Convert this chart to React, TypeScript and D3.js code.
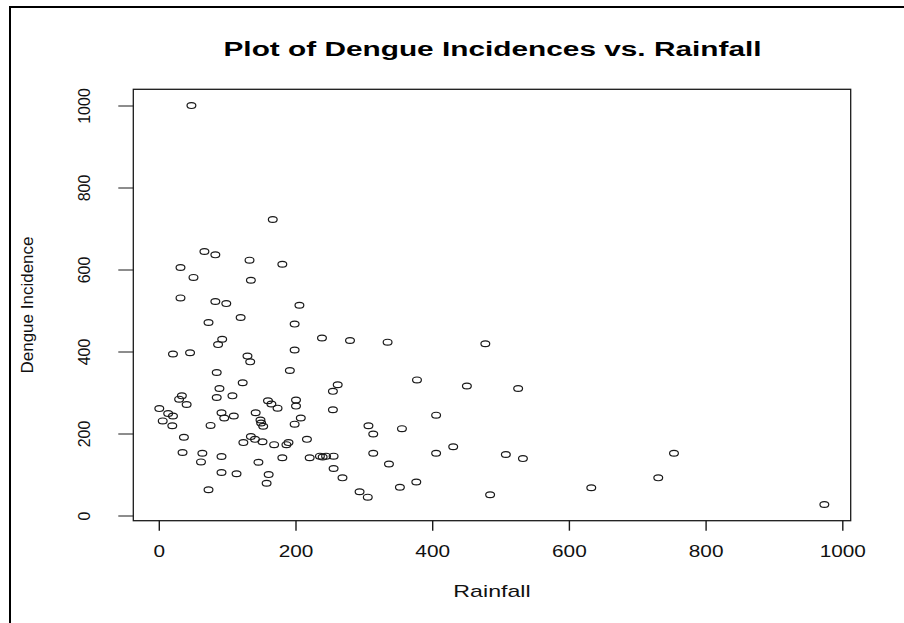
import React from "react";
import * as d3 from "d3";

const rainfall = [
  47, 166, 66, 82, 132, 180, 31, 50, 134, 31, 82, 98, 205, 72, 119, 198, 92, 86, 238, 279,
  20, 45, 198, 129, 133, 191, 84, 122, 88, 261, 254, 33, 29, 40, 84, 107, 0, 13, 20, 5,
  19, 91, 95, 109, 75, 159, 164, 173, 141, 148, 149, 152, 200, 200, 207, 198, 254, 306, 36, 34,
  63, 61, 91, 91, 113, 72, 123, 134, 140, 151, 168, 186, 189, 216, 145, 180, 160, 157, 220, 235,
  239, 244, 255, 255, 268, 293, 305, 334, 477, 377, 450, 525, 405, 313, 355, 313, 336, 405, 430, 507,
  532, 352, 376, 484, 632, 753, 730, 973,
];
const dengue = [
  1001, 723, 645, 637, 624, 614, 606, 582, 575, 532, 523, 518, 514, 472, 484, 468, 431, 418, 434, 428,
  395, 398, 405, 390, 376, 355, 350, 325, 311, 320, 304, 293, 285, 272, 289, 293, 262, 250, 244, 232,
  220, 252, 239, 244, 221, 281, 273, 263, 252, 234, 227, 219, 283, 268, 239, 224, 259, 220, 192, 155,
  153, 132, 145, 106, 103, 64, 179, 194, 187, 181, 174, 174, 179, 187, 131, 142, 101, 80, 142, 146,
  144, 146, 146, 116, 93, 59, 46, 424, 420, 332, 317, 311, 246, 200, 213, 153, 127, 153, 169, 150,
  140, 70, 83, 52, 69, 153, 93, 28,
];
const xTicks = [0, 200, 400, 600, 800, 1000];
const yTicks = [0, 200, 400, 600, 800, 1000];
const titleText = "Plot of Dengue Incidences vs. Rainfall";
const xLabel = "Rainfall";
const yLabel = "Dengue Incidence";

export default function App() {
  const W = 904, H = 623;
  const box = { left: 133.3, right: 850.7, top: 89.3, bottom: 520.7 };
  const x = d3.scaleLinear().domain([0, 1000]).range([159.3, 842.8]);
  const y = d3.scaleLinear().domain([0, 1000]).range([516, 106]);
  const ink = "#1a1a1a";
  const font = "'Liberation Sans', Arial, sans-serif";
  const pts = rainfall.map((r, i) => ({ r, d: dengue[i] }));

  return (
    <svg
      width={W}
      height={H}
      style={{ position: "absolute", left: 0, top: 0, background: "#fff" }}
      fontFamily={font}
    >
      <rect x={0} y={0} width={W} height={H} fill="#fff" />
      {/* outer frame */}
      <line x1={10} x2={W} y1={7} y2={7} stroke="#000" strokeWidth={2} />
      <line x1={10} x2={10} y1={6} y2={H} stroke="#000" strokeWidth={2} />

      {/* title */}
      <g transform={`translate(492.5,56) scale(1.42,1)`}>
        <text textAnchor="middle" fontSize={21} fontWeight="bold" fill="#000">
          {titleText}
        </text>
      </g>

      {/* plot box */}
      <rect
        x={box.left}
        y={box.top}
        width={box.right - box.left}
        height={box.bottom - box.top}
        fill="none"
        stroke={ink}
        strokeWidth={1.3}
      />

      {/* x axis */}
      {xTicks.map((t) => (
        <g key={"xt" + t}>
          <line x1={x(t)} x2={x(t)} y1={box.bottom} y2={box.bottom + 10} stroke={ink} strokeWidth={1.4} />
          <g transform={`translate(${x(t)},557) scale(1.3,1)`}>
            <text textAnchor="middle" fontSize={16} fill="#111">
              {t}
            </text>
          </g>
        </g>
      ))}
      <g transform={`translate(492,597) scale(1.45,1)`}>
        <text textAnchor="middle" fontSize={16} fill="#111">
          {xLabel}
        </text>
      </g>

      {/* y axis */}
      {yTicks.map((t) => (
        <g key={"yt" + t}>
          <line x1={box.left - 15} x2={box.left} y1={y(t)} y2={y(t)} stroke={ink} strokeWidth={1} />
          <text
            transform={`translate(90,${y(t)}) rotate(-90)`}
            textAnchor="middle"
            fontSize={16}
            fill="#111"
          >
            {t}
          </text>
        </g>
      ))}
      <text
        transform={`translate(33,305) rotate(-90)`}
        textAnchor="middle"
        fontSize={17}
        fill="#111"
      >
        {yLabel}
      </text>

      {/* points */}
      {pts.map((p, i) => (
        <ellipse
          key={i}
          cx={x(p.r)}
          cy={y(p.d)}
          rx={4.4}
          ry={2.9}
          fill="none"
          stroke={ink}
          strokeWidth={1.2}
        />
      ))}
    </svg>
  );
}
